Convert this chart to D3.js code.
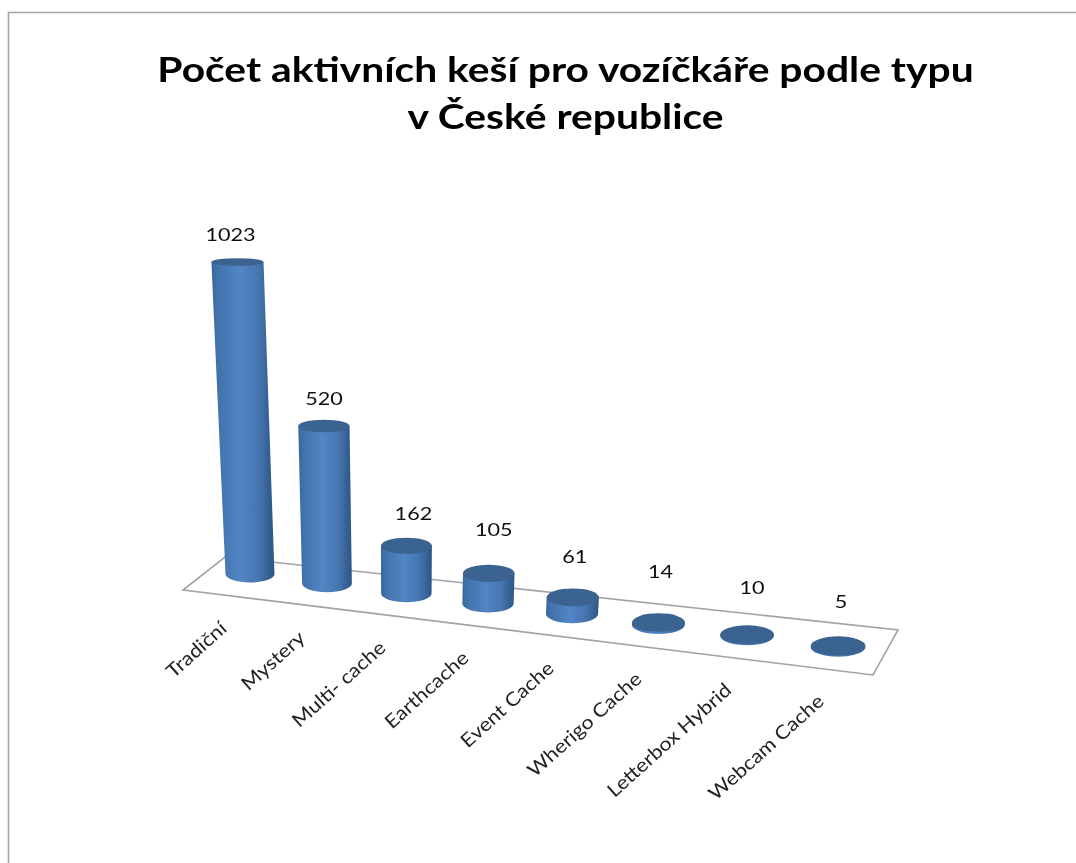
<!DOCTYPE html>
<html><head><meta charset="utf-8">
<script src="https://cdn.jsdelivr.net/npm/d3@7"></script>
<style>html,body{margin:0;padding:0;background:#fff;overflow:hidden}svg{display:block}</style>
</head><body><svg id="c" width="1076" height="863"></svg>
<script>
const categories = ["Tradiční","Mystery","Multi- cache","Earthcache","Event Cache","Wherigo Cache","Letterbox Hybrid","Webcam Cache"];
const values = [1023,520,162,105,61,14,10,5];
const titleLines = ["Počet aktivních keší pro vozíčkáře podle typu","v České republice"];
// layout tuning, separate from the data
const labelDx = [-7,0,7,5,2,2,5,3];
const labelGap = [21.5,21,26,37,34,44,41,38];
const floorPath = [[183,590],[873,675],[898,630],[225,557]];

const svg = d3.select("#c");
const defs = svg.append("defs");
const grad = defs.append("linearGradient").attr("id","side");
[[0,"#3a679c"],[0.1,"#4272ab"],[0.45,"#5285c4"],[0.75,"#4675af"],[0.93,"#325e90"],[1,"#2e5686"]]
  .forEach(([o,c])=>grad.append("stop").attr("offset",o).attr("stop-color",c));
defs.append("filter").attr("id","soft").attr("x","-5%").attr("y","-5%").attr("width","110%").attr("height","110%")
  .append("feGaussianBlur").attr("stdDeviation",0.7);
defs.append("filter").attr("id","softText").attr("x","-5%").attr("y","-5%").attr("width","110%").attr("height","110%")
  .append("feGaussianBlur").attr("stdDeviation",0.4);

svg.append("path").attr("d","M8.5,863V12.5H1076").attr("fill","none")
  .attr("stroke","#a6a6a6").attr("stroke-width",1.6);

const title = svg.append("g").attr("filter","url(#softText)");
title.selectAll("text").data(titleLines).join("text")
  .attr("transform",(d,i)=>`translate(565.5,${82+i*47}) scale(1.165,1)`)
  .attr("text-anchor","middle").attr("font-family","Lato").attr("font-weight",700)
  .attr("font-size",35).attr("fill","#000").text(d=>d);

// floor placement: bar spacing widens towards the viewer, and the row follows the floor's slope
const spacing = i => 77*i + (7/3)*i*(i-1)/2;
const baseX = d3.scaleLinear().domain([0,588]).range([250,838]);
const baseY = d3.scaleLinear().domain([250,838]).range([574,647]);
const height = d3.scaleLinear().domain([10,1023]).range([1,312]).clamp(true);

const plot = svg.append("g").attr("filter","url(#soft)");
plot.append("path").attr("d",d3.line()(floorPath)+"Z")
  .attr("fill","#fff").attr("stroke","#a3a3a3").attr("stroke-width",1.6);

const marks = categories.map((c,i)=>{
  const bx = baseX(spacing(i)), by = baseY(bx);
  const h = height(values[i]);
  const tx = bx + (bx-400)*0.000268*h;
  const ty = by - h;
  const rb = 24.5 + (bx-250)/588*2.8;
  const rt = rb + h*0.005;
  const ryb = 8.5 + (bx-250)/588*1.2;
  const ryt = Math.max(3.5, ryb - h*0.015);
  return {c,i,v:values[i],bx,by,tx,ty,rb,rt,ryb,ryt,h};
});
plot.selectAll("path.side").data(marks).join("path").attr("class","side")
  .attr("fill","url(#side)")
  .attr("d",m=>`M${m.tx-m.rt},${m.ty}L${m.bx-m.rb},${m.by}A${m.rb},${m.ryb} 0 0 0 ${m.bx+m.rb},${m.by}L${m.tx+m.rt},${m.ty}Z`);
plot.selectAll("ellipse.top").data(marks).join("ellipse").attr("class","top")
  .attr("cx",m=>m.tx).attr("cy",m=>m.ty).attr("rx",m=>m.rt).attr("ry",m=>m.ryt).attr("fill","#3a6391");

const txt = svg.append("g").attr("filter","url(#softText)").attr("font-family","Lato").attr("fill","#111");
txt.selectAll("text.val").data(marks).join("text").attr("class","val")
  .attr("transform",m=>`translate(${m.tx+labelDx[m.i]},${m.ty-labelGap[m.i]}) scale(1.2,1)`)
  .attr("text-anchor","middle").attr("font-size",18).text(m=>m.v);
txt.selectAll("text.cat").data(marks).join("text").attr("class","cat")
  .attr("transform",m=>`translate(${m.bx-22+m.i*1.3},${m.by+56}) rotate(-42) scale(1.13,1)`)
  .attr("text-anchor","end").attr("font-size",19).attr("fill","#222").text(m=>m.c);
</script></body></html>
